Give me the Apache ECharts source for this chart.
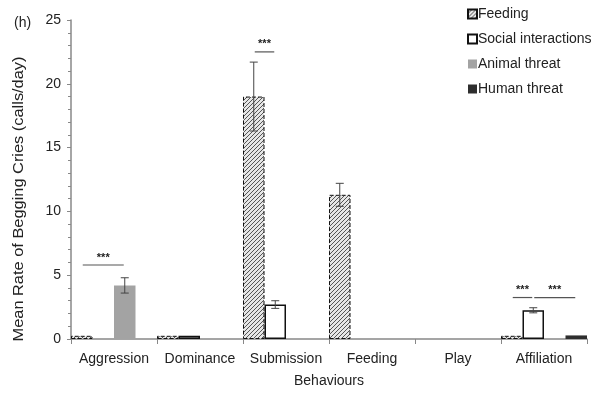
<!DOCTYPE html>
<html><head><meta charset="utf-8">
<script src="https://cdn.jsdelivr.net/npm/echarts@6/dist/echarts.min.js"></script>
<style>html,body{margin:0;padding:0;background:#fff}#c{width:596px;height:394px}</style>
</head><body><div id="c"></div>
<script>
const categories = ['Aggression','Dominance','Submission','Feeding','Play','Affiliation'];
const seriesNames = ['Feeding','Social interactions','Animal threat','Human threat'];
const feeding = [0.25, 0.25, 19.0, 11.3, null, 0.25];
const social = [null, 0.25, 2.7, null, null, 2.25];
const animal = [4.2, null, null, null, null, null];
const human = [null, null, null, null, null, 0.28];
const feedingErr = [null, null, 2.7, 0.9, null, null];
const socialErr = [null, null, 0.3, null, null, 0.2];
const animalErr = [0.6, null, null, null, null, null];
const humanErr = [null, null, null, null, null, null];
// significance: [category index, from series, to series, y value]
const sigLines = [[0, 0, 2, 5.8], [2, 0, 1, 22.5], [5, 0, 1, 3.25], [5, 1, 3, 3.25]];
const yTicks = {min: 0, max: 25, interval: 5};
const yTitle = 'Mean Rate of Begging Cries (calls/day)';

const values = [feeding, social, animal, human];
const errs = [feedingErr, socialErr, animalErr, humanErr];

function hatch() {
  const s = 4;
  const c = document.createElement('canvas');
  c.width = s; c.height = s;
  const g = c.getContext('2d');
  g.fillStyle = '#e6e6e6'; g.fillRect(0,0,s,s);
  g.strokeStyle = '#555'; g.lineWidth = 1;
  g.beginPath(); g.moveTo(-1,s+1); g.lineTo(s+1,-1); g.stroke();
  g.beginPath(); g.moveTo(-1,1); g.lineTo(1,-1); g.stroke();
  g.beginPath(); g.moveTo(s-1,s+1); g.lineTo(s+1,s-1); g.stroke();
  return c;
}
const styles = [
  {color: {image: hatch(), repeat: 'repeat'}, borderColor: '#111', borderWidth: 1, borderType: 'dashed'},
  {color: '#ffffff', borderColor: '#111', borderWidth: 1.5},
  {color: '#a3a3a3'},
  {color: '#2e2e2e'}
];

const errData = [];
errs.forEach((arr, si) => arr.forEach((e, ci) => {
  if (e != null && values[si][ci] != null) errData.push([ci, si, values[si][ci], e]);
}));

const chart = echarts.init(document.getElementById('c'));
const font = 'Liberation Sans, Arial, sans-serif';
chart.setOption({
  animation: false,
  textStyle: {fontFamily: font},
  title: {text: '(h)', left: 9, top: 11, textStyle: {fontSize: 14, fontWeight: 'normal', color: '#222', fontFamily: font}},
  graphic: [{
    type: 'text', x: 19, y: 199, rotation: Math.PI / 2, scaleX: 1.17,
    style: {text: yTitle, fontSize: 14, fill: '#222', fontFamily: font, align: 'center', verticalAlign: 'middle'}
  }],
  legend: {
    orient: 'vertical', left: 462, top: 2, itemWidth: 9, itemHeight: 9, itemGap: 11,
    icon: 'rect', data: seriesNames,
    textStyle: {fontSize: 14, color: '#222', padding: [0,0,0,-4]}
  },
  grid: {left: 71, right: 9, top: 20, bottom: 55},
  xAxis: {
    type: 'category', data: categories,
    name: 'Behaviours', nameLocation: 'middle', nameGap: 35,
    nameTextStyle: {fontSize: 14, color: '#222'},
    axisLine: {lineStyle: {color: '#888', width: 1.5}},
    axisTick: {show: true, length: 5, lineStyle: {color: '#888'}},
    axisLabel: {fontSize: 14, color: '#222', margin: 13, interval: 0}
  },
  yAxis: {
    type: 'value', min: yTicks.min, max: yTicks.max, interval: yTicks.interval,
    axisLine: {show: true, lineStyle: {color: '#888', width: 1.5}},
    axisTick: {show: true, length: 4, lineStyle: {color: '#888'}},
    minorTick: {show: true, splitNumber: 5, length: 3, lineStyle: {color: '#888'}},
    splitLine: {show: false},
    axisLabel: {fontSize: 14, color: '#222', margin: 10}
  },
  series: seriesNames.map((n, i) => ({
    name: n, type: 'bar', data: values[i],
    barGap: '0%', barCategoryGap: '0%',
    itemStyle: styles[i]
  })).concat([
    {
      type: 'custom', name: 'err', data: errData, z: 10,
      renderItem: function (params, api) {
        const ci = api.value(0), si = api.value(1), v = api.value(2), e = api.value(3);
        const bw = api.size([1, 0])[0] / 4;
        const x = api.coord([ci, v])[0] + (si - 1.5) * bw;
        const top = api.coord([ci, v + e])[1];
        const bot = api.coord([ci, v - e])[1];
        const st = {stroke: '#444', lineWidth: 1};
        return {type: 'group', children: [
          {type: 'line', shape: {x1: x, y1: top, x2: x, y2: bot}, style: st},
          {type: 'line', shape: {x1: x - 4, y1: top, x2: x + 4, y2: top}, style: st},
          {type: 'line', shape: {x1: x - 4, y1: bot, x2: x + 4, y2: bot}, style: st}
        ]};
      }
    },
    {
      type: 'custom', name: 'sig', data: sigLines, z: 10,
      renderItem: function (params, api) {
        const ci = api.value(0), a = api.value(1), b = api.value(2), y = api.value(3);
        const bw = api.size([1, 0])[0] / 4;
        const c = api.coord([ci, y]);
        const x1 = c[0] + (a - 1.5) * bw + 1;
        const x2 = c[0] + (b - 1.5) * bw - 1;
        return {type: 'group', children: [
          {type: 'line', shape: {x1: x1, y1: c[1], x2: x2, y2: c[1]}, style: {stroke: '#555', lineWidth: 1.2}},
          {type: 'text', x: (x1 + x2) / 2, y: c[1] - 2, style: {text: '***', fontSize: 11, fontWeight: 'bold', fill: '#222', align: 'center', verticalAlign: 'bottom', fontFamily: font}}
        ]};
      }
    }
  ])
});
</script></body></html>
